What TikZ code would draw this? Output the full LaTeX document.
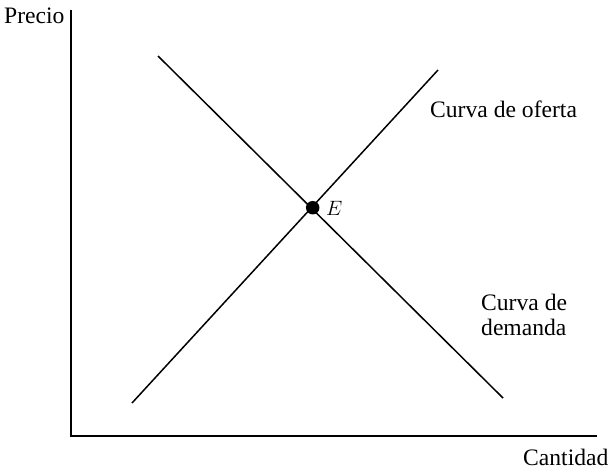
\documentclass[tikz,border=0pt]{standalone}
\usepackage{fontspec}
\setmainfont{Liberation Serif}
\begin{document}
\begin{tikzpicture}[x=1pt,y=-1pt,
  axis/.style={line width=1.5pt},
  curve/.style={line width=1.5pt},
  lbl/.style={inner sep=0pt, anchor=base west, font=\fontsize{23.6}{25}\selectfont},
  dot/.style={circle, fill=black, minimum size=13.5pt, inner sep=0pt}]
\useasboundingbox (0,0) rectangle (612,472);
% axes
\coordinate (ytop) at (71,10);
\coordinate (orig) at (71,436);
\coordinate (xend) at (597,436);
\draw[axis] (ytop) -- (orig) -- (xend);
\node[lbl] (precio) at (4,23) {Precio};
\node[lbl] (cantidad) at (523,465) {Cantidad};
% curves
\coordinate (s1) at (132,403);
\coordinate (s2) at (438,70);
\coordinate (d1) at (158,56);
\coordinate (d2) at (503,398);
\draw[curve] (s1) -- (s2);
\draw[curve] (d1) -- (d2);
\node[dot] (E) at (312.7,207.7) {};
\node[inner sep=0pt, anchor=base west, font=\fontsize{21}{24}\selectfont] (Elbl) at (326,215) {$E$};
\node[lbl] (oferta) at (430,117) {Curva de oferta};
\node[lbl, align=left] (demanda) at (481,335) {Curva de\\demanda};
\end{tikzpicture}
\end{document}
